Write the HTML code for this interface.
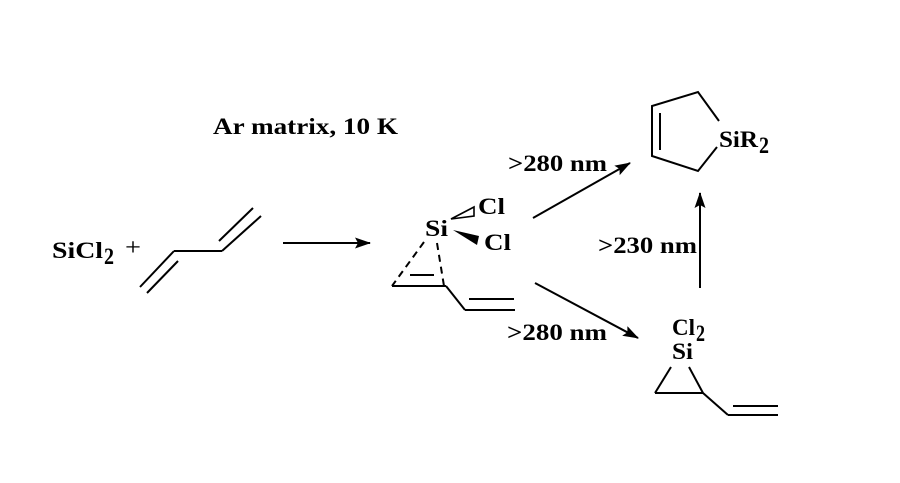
<!DOCTYPE html>
<html><head><style>
html,body{margin:0;padding:0;background:#fff;}
svg text{font-family:"Liberation Serif",serif;font-weight:bold;font-size:23px;fill:#000;}
</style></head><body>
<svg width="900" height="478" viewBox="0 0 900 478" xmlns="http://www.w3.org/2000/svg">
<defs><marker id="a" markerWidth="16" markerHeight="11" refX="15" refY="5.5" orient="auto" markerUnits="userSpaceOnUse"><path d="M0,0 L16,5.5 L0,11 L3,5.5 Z" fill="#000"/></marker></defs>
<g stroke="#000" stroke-width="2" fill="none">
<line x1="140" y1="287" x2="174" y2="251"/>
<line x1="147" y1="293" x2="178" y2="261"/>
<line x1="174" y1="251" x2="222" y2="251"/>
<line x1="222" y1="251" x2="261" y2="216"/>
<line x1="219" y1="241" x2="253" y2="208"/>
<line x1="283" y1="243" x2="370" y2="243" marker-end="url(#a)"/>
<line x1="533" y1="218" x2="630" y2="163" marker-end="url(#a)"/>
<line x1="535" y1="283" x2="638" y2="338" marker-end="url(#a)"/>
<line x1="700" y1="288" x2="700" y2="193" marker-end="url(#a)"/>
<line x1="424" y1="242" x2="392" y2="286" stroke-dasharray="7,5"/>
<line x1="437" y1="243" x2="444" y2="286" stroke-dasharray="7,5"/>
<line x1="392" y1="286" x2="446" y2="286"/>
<line x1="410" y1="275" x2="434" y2="275"/>
<line x1="446" y1="286" x2="465" y2="310"/>
<line x1="465" y1="310" x2="515" y2="310"/>
<line x1="469" y1="299" x2="514" y2="299"/>
<path d="M451,219 L474,207 L474,216 Z" stroke-width="1.6"/>
<polyline points="719,121 698,92 652,106 652,156 698,171 717,147"/>
<line x1="660" y1="113" x2="660" y2="150"/>
<line x1="671" y1="367" x2="655" y2="393"/>
<line x1="689" y1="367" x2="703" y2="393"/>
<line x1="655" y1="393" x2="703" y2="393"/>
<line x1="703" y1="393" x2="728" y2="415"/>
<line x1="728" y1="415" x2="778" y2="415"/>
<line x1="733" y1="406" x2="778" y2="406"/>
</g>
<path d="M453,230 L479,236 L477,245 Z" fill="#000"/>
<text x="52" y="258" textLength="51" lengthAdjust="spacingAndGlyphs">SiCl</text><text x="104" y="264" font-size="15" textLength="10" lengthAdjust="spacingAndGlyphs">2</text>
<text x="125" y="255" style="font-weight:normal;font-size:24px" textLength="16" lengthAdjust="spacingAndGlyphs">+</text>
<text x="213" y="134" textLength="185" lengthAdjust="spacingAndGlyphs">Ar matrix, 10 K</text>
<text x="508" y="171" textLength="99" lengthAdjust="spacingAndGlyphs">&gt;280 nm</text>
<text x="507" y="340" textLength="100" lengthAdjust="spacingAndGlyphs">&gt;280 nm</text>
<text x="598" y="253" textLength="99" lengthAdjust="spacingAndGlyphs">&gt;230 nm</text>
<text x="425" y="236" textLength="23" lengthAdjust="spacingAndGlyphs">Si</text>
<text x="478" y="214" textLength="27" lengthAdjust="spacingAndGlyphs">Cl</text>
<text x="484" y="250" textLength="27" lengthAdjust="spacingAndGlyphs">Cl</text>
<text x="719" y="147" textLength="39" lengthAdjust="spacingAndGlyphs">SiR</text><text x="759" y="153" font-size="15" textLength="10" lengthAdjust="spacingAndGlyphs">2</text>
<text x="672" y="335" textLength="23" lengthAdjust="spacingAndGlyphs">Cl</text><text x="696" y="341" font-size="15" textLength="9" lengthAdjust="spacingAndGlyphs">2</text>
<text x="672" y="359" textLength="21" lengthAdjust="spacingAndGlyphs">Si</text>
</svg>
</body></html>
